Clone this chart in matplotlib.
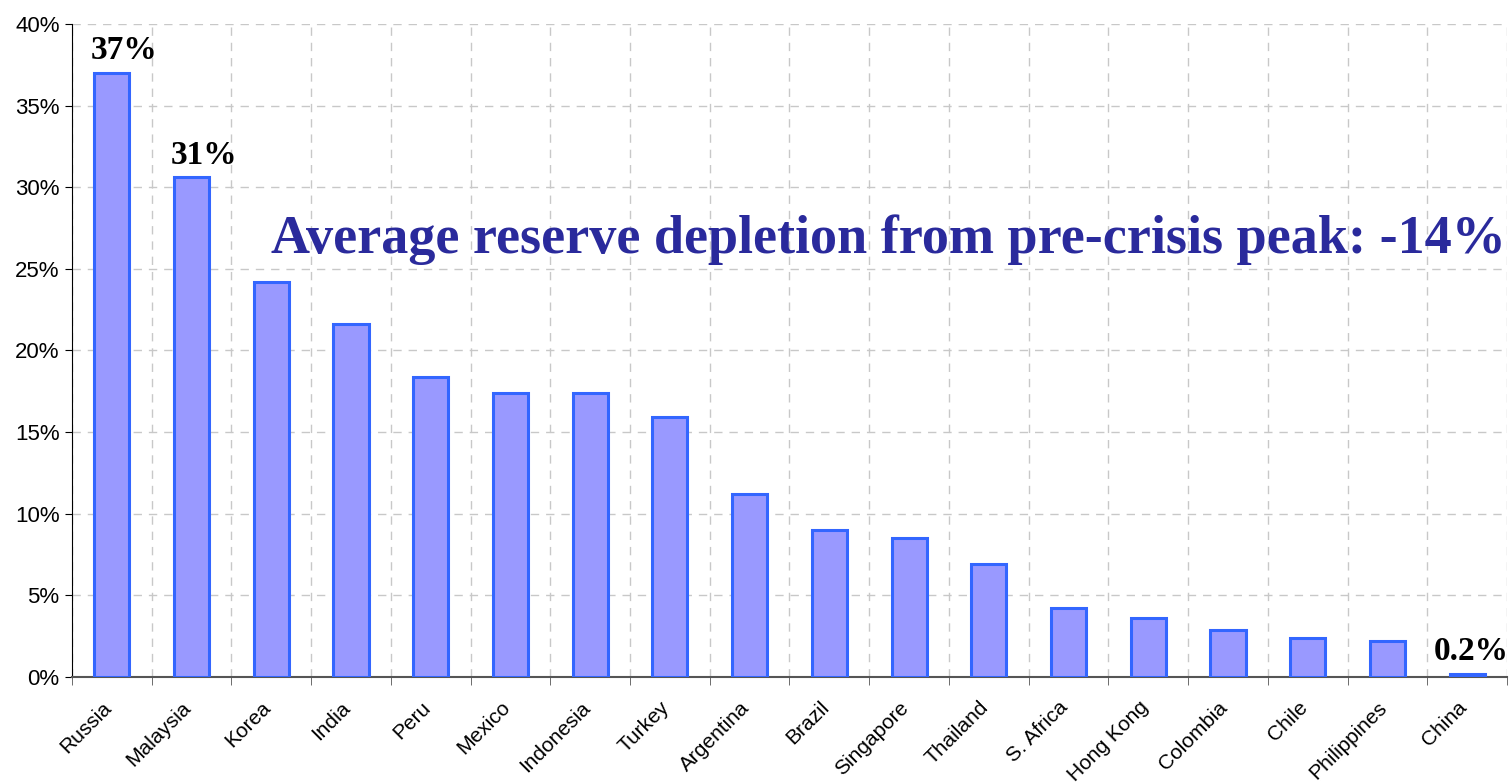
import matplotlib.pyplot as plt
import matplotlib.transforms as mtransforms
import numpy as np
from matplotlib.ticker import FuncFormatter, MultipleLocator

# Reserve depletion from pre-crisis peak, by country (fraction)
countries = ['Russia', 'Malaysia', 'Korea', 'India', 'Peru', 'Mexico', 'Indonesia',
             'Turkey', 'Argentina', 'Brazil', 'Singapore', 'Thailand', 'S. Africa',
             'Hong Kong', 'Colombia', 'Chile', 'Philippines', 'China']
depletion = [0.37, 0.306, 0.242, 0.216, 0.184, 0.174, 0.174, 0.159, 0.112, 0.090,
             0.085, 0.069, 0.042, 0.036, 0.029, 0.024, 0.022, 0.002]
labelled = {'Russia': '37%', 'Malaysia': '31%', 'China': '0.2%'}
average_text = 'Average reserve depletion from pre-crisis peak: -14%'

fig = plt.figure(figsize=(15.12, 7.84), dpi=100)
ax = fig.add_axes([72 / 1512, 1 - 677 / 784, (1507 - 72) / 1512, (677 - 24) / 784])

x = np.arange(len(countries))
ax.bar(x, depletion, width=0.44, color='#9999ff', edgecolor='#3366ff', linewidth=2.2,
       zorder=3)

for xi, name, val in zip(x, countries, depletion):
    if name in labelled:
        dx = 9 if xi < len(countries) - 1 else 3
        ax.annotate(labelled[name], (xi, val), xytext=(dx, 5), textcoords='offset points',
                    ha='center', va='bottom', family='Liberation Serif',
                    fontweight='bold', fontsize=24, zorder=4)

ax.text(0.999, 0.649, average_text, transform=ax.transAxes, ha='right', va='baseline',
        family='Liberation Serif', fontweight='bold', fontsize=39, color='#2a2a9c',
        zorder=5)

ax.set_xlim(-0.5, len(countries) - 0.5)
ax.set_ylim(0, 0.40)
ax.yaxis.set_major_locator(MultipleLocator(0.05))
ax.yaxis.set_major_formatter(FuncFormatter(lambda v, p: f'{v * 100:.0f}%'))

# country names sit between boundary ticks; gridlines at the boundaries
ax.set_xticks(x)
ax.set_xticklabels(countries, rotation=45, ha='right', rotation_mode='anchor',
                   family='Liberation Sans', fontsize=15)
ax.tick_params(axis='x', which='major', length=0, pad=15)
shift = mtransforms.ScaledTranslation(-10 / 100, 0, fig.dpi_scale_trans)
for lbl in ax.get_xticklabels():
    lbl.set_transform(lbl.get_transform() + shift)
ax.set_xticks(np.arange(len(countries) + 1) - 0.5, minor=True)
ax.tick_params(axis='x', which='minor', length=6, color='#555555', direction='out')
ax.tick_params(axis='y', length=5, labelsize=16, direction='out', pad=4)
for lbl in ax.get_yticklabels():
    lbl.set_family('Liberation Sans')

ax.grid(axis='y', which='major', linestyle=(0, (6, 5)), color='#c8c8c8', linewidth=1)
ax.grid(axis='x', which='minor', linestyle=(0, (6, 5)), color='#c8c8c8', linewidth=1)
ax.set_axisbelow(True)

for side in ['top', 'right']:
    ax.spines[side].set_visible(False)
ax.spines['left'].set_color('black')
ax.spines['bottom'].set_color('#555555')
ax.spines['bottom'].set_linewidth(1.5)

fig.savefig('out.png', dpi=100)
